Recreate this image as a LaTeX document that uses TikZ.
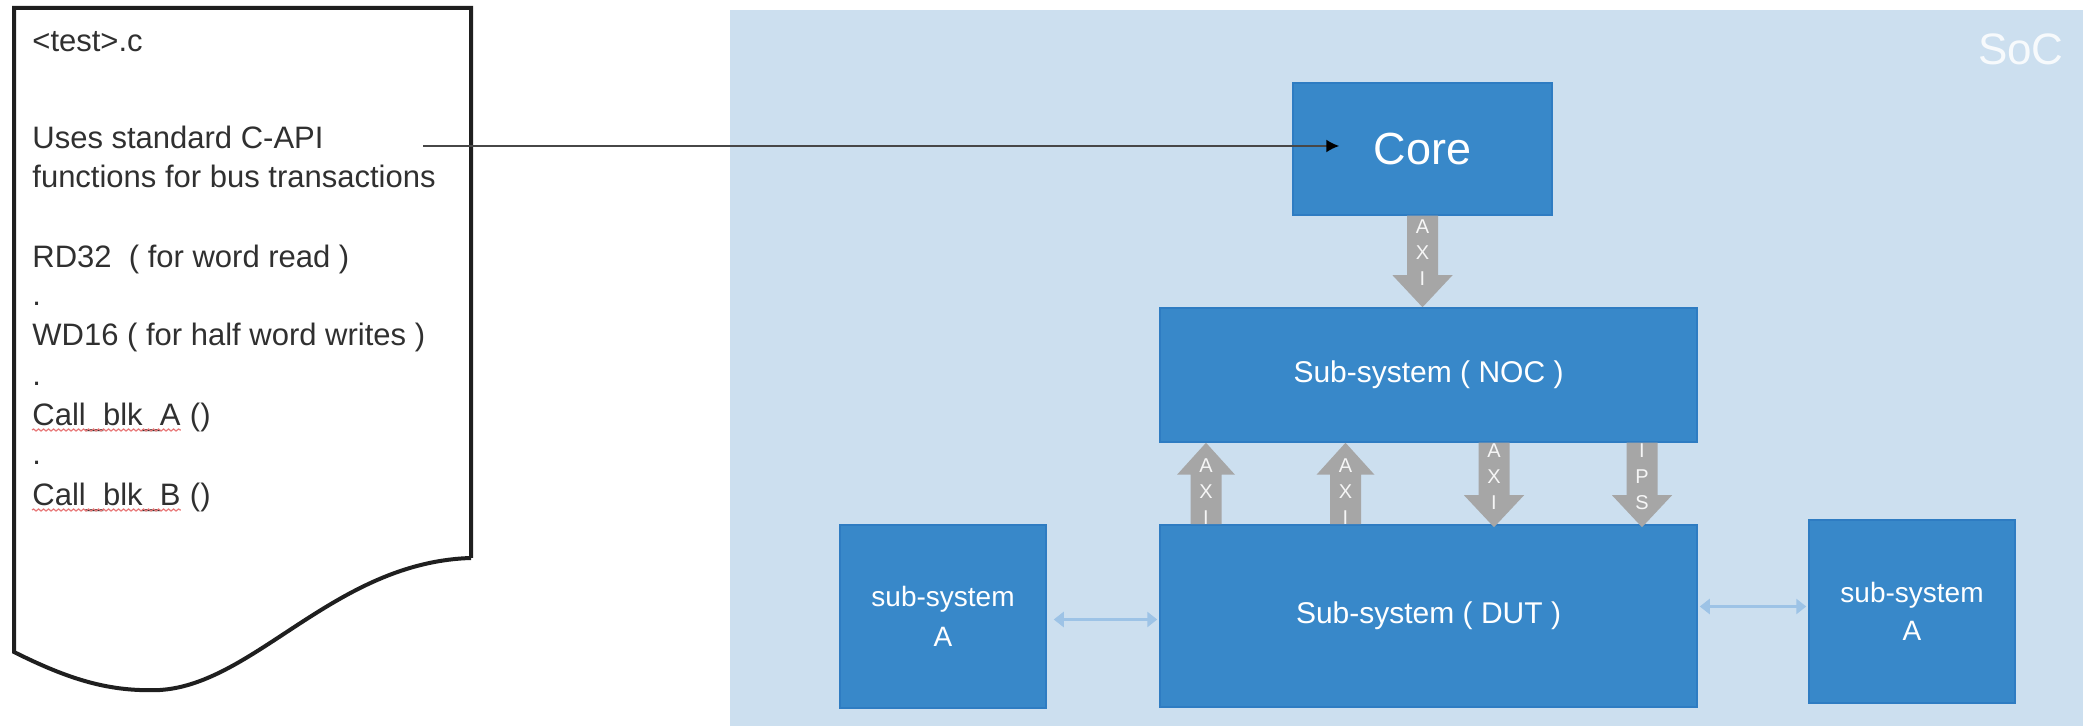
\documentclass[tikz,border=0pt]{standalone}
\usepackage{fontspec}
\setmainfont{Liberation Sans}
\usetikzlibrary{calc,arrows.meta,decorations.pathmorphing}

\definecolor{socbg}{HTML}{CCDFEF}
\definecolor{blkfill}{HTML}{3888C9}
\definecolor{blkedge}{HTML}{2E7CC2}
\definecolor{busgray}{HTML}{A6A6A6}
\definecolor{linkblue}{HTML}{9DC3E6}
\definecolor{doctext}{HTML}{303030}
\definecolor{spellred}{HTML}{E87878}

% wide grey bus arrow pointing down: #1 start (top), #2 tip, #3 stacked label
\newcommand\busdown[3]{%
  \fill[busgray] ($(#1)+(-15.5,0)$) -- ($(#2)+(-15.5,-32)$) -- ($(#2)+(-30,-32)$)
    -- (#2) -- ($(#2)+(30,-32)$) -- ($(#2)+(15.5,-32)$) -- ($(#1)+(15.5,0)$) -- cycle;
  \node[buslabel] at ($(#1)!0.4!(#2)$) {#3};}
% wide grey bus arrow pointing up: #1 start (bottom), #2 tip, #3 stacked label
\newcommand\busup[3]{%
  \fill[busgray] ($(#1)+(-15.5,0)$) -- ($(#2)+(-15.5,32)$) -- ($(#2)+(-29,32)$)
    -- (#2) -- ($(#2)+(29,32)$) -- ($(#2)+(15.5,32)$) -- ($(#1)+(15.5,0)$) -- cycle;
  \node[buslabel] at ($(#1)!0.4!(#2)$) {#3};}

\begin{document}
\begin{tikzpicture}[x=0.5pt,y=-0.5pt,
  blk/.style={draw=blkedge, fill=blkfill, line width=0.75pt, text=white,
    inner sep=0pt, align=center},
  buslabel/.style={text=white, text opacity=0.9, inner sep=0pt, align=center,
    font=\fontsize{10}{13}\selectfont},
  doctxt/.style={anchor=base west, inner sep=0pt, text=doctext,
    font=\fontsize{15.5}{19}\selectfont},
  link/.style={draw=linkblue, line width=1.5pt,
    {Triangle[length=5pt,width=7.5pt]}-{Triangle[length=5pt,width=7.5pt]}},
  apiarrow/.style={draw=black!72, line width=1pt,
    -{Latex[length=6.5pt,width=6.5pt,color=black]}},
  spell/.style={draw=spellred, line width=0.6pt, decorate,
    decoration={snake, amplitude=0.5pt, segment length=2.5pt}}]

\useasboundingbox (0,0) rectangle (2088,726);

% SoC area
\fill[socbg] (730,10) rectangle (2083,726);
\node[anchor=base east, inner sep=0pt, text=white, text opacity=0.85,
  font=\fontsize{22}{26}\selectfont] (soc) at (2064,65) {SoC};

% test source file sheet
\draw[line width=2pt, draw=black!88, line join=miter]
  (471,558) -- (471,8) -- (14,8) -- (14,652)
  .. controls (70,680) and (110,692) .. (160,690)
  .. controls (255,684) and (335,562) .. (471,558);

\node[doctxt] (fname) at (32,52) {<test>.c};
\node[doctxt] (uses1) at (32,149) {Uses standard C-API};
\node[doctxt] (uses2) at (32,188) {functions for bus transactions};
\node[doctxt] (rd) at (32,268) {RD32\ \ ( for word read )};
\node[doctxt] (dot1) at (32,306) {.};
\node[doctxt] (wd) at (32,346) {WD16 ( for half word writes )};
\node[doctxt] (dot2) at (32,386) {.};
\node[doctxt] (callA) at (32,426) {Call\_blk\_A};
\node[doctxt, anchor=base west] (callAp) at ([xshift=4.3pt]callA.base east) {()};
\node[doctxt] (dot3) at (32,465) {.};
\node[doctxt] (callB) at (32,506) {Call\_blk\_B};
\node[doctxt, anchor=base west] (callBp) at ([xshift=4.3pt]callB.base east) {()};
\draw[spell] ([yshift=-2pt]callA.base west) -- ([yshift=-2pt]callA.base east);
\draw[spell] ([yshift=-2pt]callB.base west) -- ([yshift=-2pt]callB.base east);

% blocks
\node[blk, minimum width=129.5pt, minimum height=66pt,
  font=\fontsize{22.5}{26}\selectfont] (core) at (1422.5,149) {Core};
\node[blk, minimum width=268.5pt, minimum height=67pt,
  font=\fontsize{15}{18}\selectfont] (noc) at (1428.5,375) {Sub-system ( NOC )};
\node[blk, minimum width=268.5pt, minimum height=91pt,
  font=\fontsize{15}{18}\selectfont] (dut) at (1428.5,616) {Sub-system ( DUT )};
\node[blk, minimum width=103pt, minimum height=91.5pt,
  font=\fontsize{14}{20}\selectfont] (subl) at (943,616.5) {sub-system\\A};
\node[blk, minimum width=103pt, minimum height=91.5pt,
  font=\fontsize{14}{19}\selectfont] (subr) at (1912,611.5) {sub-system\\A};

% call path from the test into the core
\coordinate (apistart) at (423,146);
\draw[apiarrow] (apistart) -- ([xshift=23.5pt]apistart -| core.west);

% bus connections
\coordinate (corebus) at (core.south |- noc.north);
\busdown{core.south}{corebus}{A\\X\\I}

\coordinate (x1) at (1206,0);
\coordinate (x2) at (1345.5,0);
\coordinate (x3) at (1494,0);
\coordinate (x4) at (1642,0);
\coordinate (u1b) at (x1 |- dut.north);
\coordinate (u1t) at (x1 |- noc.south);
\coordinate (u2b) at (x2 |- dut.north);
\coordinate (u2t) at (x2 |- noc.south);
\coordinate (d3t) at (x3 |- noc.south);
\coordinate (d3b) at ($(x3 |- dut.north)+(0,3)$);
\coordinate (d4t) at (x4 |- noc.south);
\coordinate (d4b) at ($(x4 |- dut.north)+(0,3)$);
\busup{u1b}{u1t}{A\\X\\I}
\busup{u2b}{u2t}{A\\X\\I}
\busdown{d3t}{d3b}{A\\X\\I}
\busdown{d4t}{d4b}{I\\P\\S}

% side links
\coordinate (ll) at ($(subl.east)+(0,3)$);
\draw[link, shorten <=3.5pt, shorten >=1pt] (ll) -- (ll -| dut.west);
\coordinate (rl) at ($(subr.west)+(0,-5)$);
\draw[link, shorten <=1pt, shorten >=1pt] (rl -| dut.east) -- (rl);

\end{tikzpicture}
\end{document}
